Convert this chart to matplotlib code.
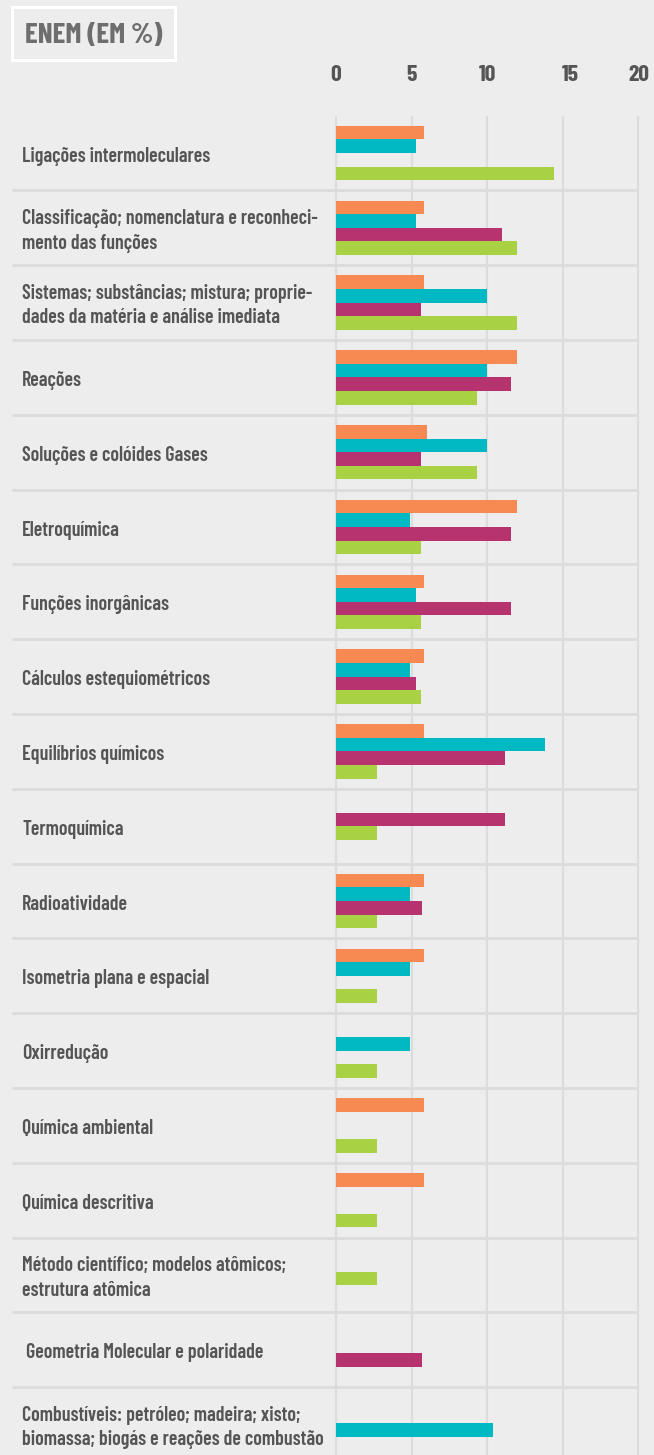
import numpy as np
import matplotlib.pyplot as plt
from matplotlib.patches import Rectangle
from matplotlib.transforms import ScaledTranslation

nan = np.nan

categories = [
    "Ligações intermoleculares",
    "Classificação; nomenclatura e reconheci-\nmento das funções",
    "Sistemas; substâncias; mistura; proprie-\ndades da matéria e análise imediata",
    "Reações",
    "Soluções e colóides Gases",
    "Eletroquímica",
    "Funções inorgânicas",
    "Cálculos estequiométricos",
    "Equilíbrios químicos",
    "Termoquímica",
    "Radioatividade",
    "Isometria plana e espacial",
    "Oxirredução",
    "Química ambiental",
    "Química descritiva",
    "Método científico; modelos atômicos;\nestrutura atômica",
    " Geometria Molecular e polaridade",
    "Combustíveis: petróleo; madeira; xisto;\nbiomassa; biogás e reações de combustão",
]

serie_laranja = [5.8, 5.8, 5.8, 12.0, 6.0, 12.0, 5.8, 5.8, 5.8, nan, 5.8, 5.8, nan, 5.8, 5.8, nan, nan, nan]
serie_azul = [5.3, 5.3, 10.0, 10.0, 10.0, 4.9, 5.3, 4.9, 13.8, nan, 4.9, 4.9, 4.9, nan, nan, nan, nan, 10.4]
serie_roxa = [nan, 11.0, 5.6, 11.6, 5.6, 11.6, 11.6, 5.3, 11.2, 11.2, 5.7, nan, nan, nan, nan, nan, 5.7, nan]
serie_verde = [14.4, 12.0, 12.0, 9.3, 9.3, 5.6, 5.6, 5.6, 2.7, 2.7, 2.7, 2.7, 2.7, 2.7, 2.7, 2.7, nan, nan]

ticks = [0, 5, 10, 15, 20]

# deslocamento (em faixas de barra) de algumas linhas, como no original
row_shift = np.zeros(len(categories))
row_shift[9] = -1.0
row_shift[15] = -1.25
row_shift[16] = 0.25
row_shift[17] = 0.9

cores = ["#f68a52", "#00b9c2", "#b73370", "#a8d144"]
bg = "#ededed"
grid = "#dcdcdc"
fonte = ["Barlow Condensed", "DejaVu Sans"]
estilo = dict(family=fonte, fontstretch="condensed")

W, H = 654, 1455
fig = plt.figure(figsize=(W / 100, H / 100), dpi=100)
fig.patch.set_facecolor(bg)

px_unit = 15.12
x0 = 336
ax_left, ax_right = 12, 640
top_px = 116
ax = fig.add_axes([ax_left / W, 0, (ax_right - ax_left) / W, 1 - top_px / H])
ax.set_facecolor(bg)
ax.set_xlim((ax_left - x0) / px_unit, (ax_right - x0) / px_unit)
n = len(categories)
row_px = 74.8
ax.set_ylim((H - 153) / row_px, (top_px - 153) / row_px)
for s in ax.spines.values():
    s.set_visible(False)

# grades
for t in ticks:
    ax.axvline(t, color=grid, lw=1.6, zorder=1)
ax.hlines(np.arange(n - 1) + 0.5, ax.get_xlim()[0], 20, color=grid, lw=2.0, zorder=1)

h = 13.6 / row_px
y = np.arange(n)
for k, (serie, cor) in enumerate(zip([serie_laranja, serie_azul, serie_roxa, serie_verde], cores)):
    pos = y + (k - 1.5 + row_shift) * h
    ax.barh(pos, serie, height=h, color=cor, left=0, zorder=3, linewidth=0)

ax.xaxis.tick_top()
ax.set_xticks(ticks)
ax.set_xticklabels([str(t) for t in ticks], fontsize=17, color="#555555", fontweight=700, **estilo)
ax.tick_params(axis="x", length=0, pad=22)
ax.set_yticks([])
# o rótulo "15" está um pouco deslocado no original
lbl15 = ax.get_xticklabels()[3]
lbl15.set_transform(lbl15.get_transform() + ScaledTranslation(8 / 100, 0, fig.dpi_scale_trans))

desc = ScaledTranslation(0, -3 / 100, fig.dpi_scale_trans)
for i, lab in enumerate(categories):
    ax.text(0.016, i, lab, transform=ax.get_yaxis_transform() + desc, ha="left", va="center",
            fontsize=14.4, color="#555555", linespacing=1.38, fontweight=600, **estilo)

# caixa do título
fig.patches.append(Rectangle((12 / W, 1 - 60 / H), 163 / W, 53 / H, transform=fig.transFigure,
                             facecolor=bg, edgecolor="white", lw=2.2))
fig.text(93.5 / W, 1 - 35 / H, "ENEM (EM %)", ha="center", va="center",
         fontsize=21, color="#6e6e6e", fontweight=700, **estilo)

fig.savefig("out.png", dpi=100, facecolor=bg)
